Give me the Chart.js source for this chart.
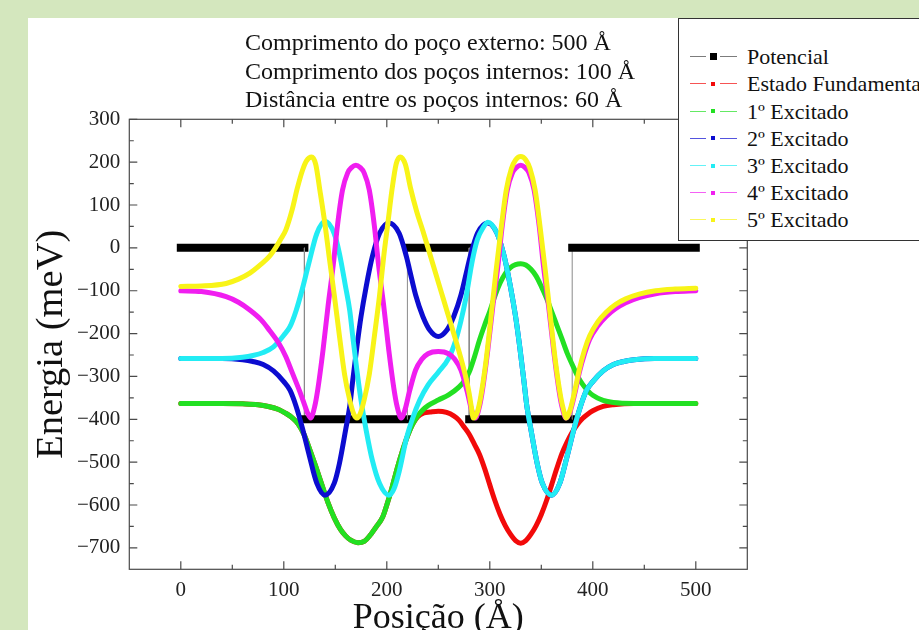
<!DOCTYPE html>
<html><head><meta charset="utf-8">
<script src="https://cdn.jsdelivr.net/npm/chart.js@4.4.1/dist/chart.umd.min.js"></script>
<style>
html,body{margin:0;padding:0;}
body{width:919px;height:630px;overflow:hidden;background:#d4e7be;position:relative;font-family:'Liberation Serif',serif;}
#panel{position:absolute;left:28px;top:18px;width:891px;height:612px;background:#fff;}
#wrap{position:absolute;left:0;top:0;width:919px;height:650px;}
#notes{position:absolute;left:245px;top:28px;font-size:24px;line-height:28.5px;color:#111;white-space:nowrap;}
#legend{position:absolute;left:678px;top:18px;width:260px;height:221px;border:1px solid #333;background:#fff;}
#legend div{position:absolute;}
.txt{font-size:22px;line-height:27px;color:#111;white-space:nowrap;}
</style></head>
<body>
<div id="panel"></div>
<div id="wrap"><canvas id="c" width="919" height="650"></canvas></div>
<div id="notes">
<div>Comprimento do poço externo: 500 Å</div>
<div>Comprimento dos poços internos: 100 Å</div>
<div>Distância entre os poços internos: 60 Å</div>
</div>
<div id="legend"></div>
<script>
// ---- tick labels ----
const xTicks = [0, 100, 200, 300, 400, 500];
const yTicks = [-700, -600, -500, -400, -300, -200, -100, 0, 100, 200, 300];

// ---- series names ----
const seriesNames = ['Potencial', 'Estado Fundamental', '1º Excitado', '2º Excitado', '3º Excitado', '4º Excitado', '5º Excitado'];

// ---- series values [posição Å, energia meV] ----
const potencial = [[0,0],[120,0],[120,-400],[220,-400],[220,0],[280,0],[280,-400],[380,-400],[380,0],[500,0]];

const fundamental = [[0,-363],[20,-363],[40,-363],[60,-364],[75,-366],[85,-370],[95,-377],[102,-386],[108,-396],[114,-411],[120,-437],[126,-476],[131,-510],[137,-553],[143,-595],[149,-630],[155,-657],[160,-672],[165,-682],[172,-688],[178,-685],[184,-670],[190,-650],[196,-628],[200,-600],[205,-560],[210,-515],[215,-475],[220,-440],[225,-412],[230,-394],[236,-385],[242,-383],[250,-381],[258,-384],[265,-392],[270,-402],[275,-418],[280,-435],[285,-458],[290,-482],[295,-515],[300,-553],[305,-590],[310,-622],[315,-648],[320,-668],[325,-683],[330,-689],[335,-683],[340,-668],[345,-648],[350,-622],[355,-590],[360,-553],[365,-515],[370,-480],[375,-453],[380,-430],[385,-412],[390,-398],[395,-388],[400,-380],[410,-370],[420,-366],[440,-363],[470,-363],[500,-363]];

const excitado1 = [[0,-363],[20,-363],[40,-363],[60,-364],[75,-366],[85,-370],[95,-377],[102,-386],[108,-396],[114,-411],[120,-437],[126,-476],[131,-510],[137,-553],[143,-595],[149,-630],[155,-657],[160,-672],[165,-682],[172,-688],[178,-685],[184,-670],[190,-650],[196,-628],[200,-600],[205,-560],[210,-515],[215,-475],[220,-440],[225,-412],[230,-392],[235,-378],[240,-368],[250,-355],[260,-343],[270,-325],[276,-308],[280,-290],[285,-255],[290,-215],[295,-180],[300,-148],[305,-112],[310,-82],[315,-60],[320,-46],[325,-39],[330,-37],[335,-40],[340,-50],[345,-66],[350,-90],[355,-117],[360,-148],[365,-180],[370,-212],[375,-245],[380,-272],[385,-298],[390,-318],[395,-333],[400,-344],[410,-356],[420,-361],[440,-363],[470,-363],[500,-363]];

const excitado2 = [[0,-258],[40,-258],[60,-261],[70,-265],[80,-272],[90,-287],[100,-312],[106,-332],[112,-370],[118,-420],[125,-487],[132,-549],[140,-577],[149,-549],[154,-503],[160,-425],[164,-370],[167,-308],[171,-230],[175,-160],[180,-90],[186,-20],[193,34],[202,58],[212,34],[219,-20],[222,-50],[228,-110],[235,-160],[242,-193],[250,-207],[258,-193],[265,-160],[272,-110],[278,-50],[281,-20],[288,34],[298,58],[307,34],[314,-20],[320,-90],[325,-160],[329,-230],[333,-308],[336,-370],[340,-425],[346,-503],[351,-549],[360,-577],[368,-549],[375,-487],[382,-420],[388,-370],[394,-332],[400,-312],[410,-287],[420,-272],[430,-265],[440,-261],[460,-258],[500,-258]];

const excitado3 = [[0,-258],[40,-258],[60,-255],[70,-251],[80,-244],[90,-231],[100,-204],[106,-184],[112,-146],[118,-96],[125,-29],[132,33],[140,62],[149,33],[154,-13],[160,-91],[164,-146],[167,-208],[171,-286],[175,-356],[180,-426],[186,-496],[193,-550],[202,-577],[207,-562],[212,-522],[219,-445],[225,-398],[232,-355],[240,-320],[250,-290],[260,-258],[267,-215],[272,-170],[277,-114],[283,-30],[288,20],[293,45],[298,60],[307,34],[314,-20],[320,-90],[325,-160],[329,-230],[333,-308],[336,-370],[340,-425],[346,-503],[351,-549],[360,-577],[368,-549],[375,-487],[382,-420],[388,-370],[394,-332],[400,-312],[410,-287],[420,-272],[430,-265],[440,-261],[460,-258],[500,-258]];

const excitado4 = [[0,-100],[20,-102],[44,-114],[56,-127],[67,-145],[78,-168],[86,-192],[95,-222],[102,-254],[108,-290],[115,-332],[120,-365],[123,-385],[126,-397],[130,-370],[133,-330],[138,-240],[143,-135],[148,-40],[152,50],[157,135],[162,175],[166,188],[170,193],[174,188],[178,175],[183,135],[188,50],[192,-40],[197,-135],[202,-240],[207,-330],[210,-370],[214,-397],[218,-375],[222,-335],[228,-285],[234,-260],[240,-247],[250,-242],[260,-247],[266,-260],[272,-285],[278,-335],[282,-375],[286,-397],[290,-370],[293,-330],[298,-240],[303,-135],[308,-40],[312,50],[317,135],[322,175],[326,188],[330,193],[334,188],[338,175],[343,135],[348,50],[352,-40],[357,-135],[362,-240],[367,-330],[370,-370],[374,-397],[378,-382],[383,-335],[387,-290],[392,-247],[397,-213],[405,-182],[413,-160],[422,-142],[432,-128],[445,-116],[461,-107],[480,-102],[500,-100]];

const excitado5 = [[0,-90],[20,-89],[44,-83],[56,-73],[67,-59],[78,-38],[86,-20],[92,0],[97,20],[102,42],[108,88],[113,138],[118,180],[122,203],[127,212],[131,195],[135,135],[140,55],[144,-20],[149,-110],[154,-205],[159,-295],[164,-355],[168,-388],[171,-397],[174,-388],[178,-355],[183,-295],[188,-205],[193,-110],[197,-20],[201,57],[205,135],[209,195],[213,212],[218,195],[223,140],[229,85],[235,40],[245,-40],[255,-120],[265,-200],[272,-258],[277,-305],[280,-340],[282,-370],[284,-397],[288,-382],[291,-350],[296,-270],[301,-165],[306,-55],[311,45],[316,135],[321,185],[325,205],[330,213],[335,205],[339,185],[344,135],[349,45],[354,-55],[359,-165],[364,-270],[369,-350],[372,-382],[374,-397],[378,-378],[383,-328],[387,-283],[392,-238],[397,-205],[405,-172],[413,-150],[422,-132],[432,-119],[445,-108],[461,-100],[480,-96],[500,-94]];

const seriesData = [potencial, fundamental, excitado1, excitado2, excitado3, excitado4, excitado5];
const seriesColors = ['#000000', '#f20a0a', '#22e022', '#0c0cd0', '#22ecf4', '#f01ef0', '#f8f418'];

Chart.defaults.font.family = "'Liberation Serif', 'Times New Roman', serif";

const toPts = arr => arr.map(p => ({x: p[0], y: p[1]}));
const isVert = c => c.p0.parsed.x === c.p1.parsed.x;

const datasets = seriesData.map((arr, i) => {
  if (i === 0) {
    return {
      label: seriesNames[0], data: toPts(arr), order: 10,
      borderColor: '#000', borderWidth: 8, borderCapStyle: 'square', tension: 0, pointRadius: 0,
      segment: {
        borderColor: c => isVert(c) ? '#8a8a8a' : '#000',
        borderWidth: c => isVert(c) ? 1 : 8
      }
    };
  }
  return {
    label: seriesNames[i], data: toPts(arr), order: 7 - i,
    borderColor: seriesColors[i], backgroundColor: seriesColors[i],
    borderWidth: 5, borderCapStyle: 'round', borderJoinStyle: 'round',
    cubicInterpolationMode: 'monotone', pointRadius: 0
  };
});

const frameTicks = {
  id: 'frameTicks',
  afterDraw(chart) {
    const {ctx, chartArea: a, scales: {x, y}} = chart;
    const xMinor = xTicks.slice(1).map((v, i) => (v + xTicks[i]) / 2);
    const yMinor = yTicks.slice(1).map((v, i) => (v + yTicks[i]) / 2);
    ctx.save();
    ctx.strokeStyle = '#4a4a4a';
    ctx.lineWidth = 1.2;
    ctx.strokeRect(a.left, a.top, a.right - a.left, a.bottom - a.top);
    ctx.beginPath();
    const xt = (v, len) => { const p = x.getPixelForValue(v); ctx.moveTo(p, a.bottom); ctx.lineTo(p, a.bottom - len); ctx.moveTo(p, a.top); ctx.lineTo(p, a.top + len); };
    const yt = (v, len) => { const p = y.getPixelForValue(v); ctx.moveTo(a.left, p); ctx.lineTo(a.left + len, p); ctx.moveTo(a.right, p); ctx.lineTo(a.right - len, p); };
    xTicks.forEach(v => xt(v, 8)); xMinor.forEach(v => xt(v, 4.5));
    yTicks.forEach(v => yt(v, 8)); yMinor.forEach(v => yt(v, 4.5));
    ctx.stroke();
    ctx.restore();
  }
};

const chart = new Chart(document.getElementById('c'), {
  type: 'line',
  data: {datasets},
  plugins: [frameTicks],
  options: {
    responsive: false, animation: false, devicePixelRatio: 1,
    layout: {padding: {top: 119.3, right: 171.7, left: 0, bottom: 0}},
    plugins: {legend: {display: false}, tooltip: {enabled: false}},
    scales: {
      x: {
        type: 'linear', min: -50, max: 550,
        afterBuildTicks: s => { s.ticks = xTicks.map(v => ({value: v})); },
        afterFit: s => { s.height = 80.7; },
        grid: {display: false, drawTicks: false}, border: {display: false},
        ticks: {padding: 9, font: {size: 21}, color: '#222', maxRotation: 0, autoSkip: false},
        title: {display: true, text: 'Posição (Å)', color: '#111', font: {size: 36}, padding: {top: 0, bottom: 9.4}}
      },
      y: {
        type: 'linear', min: -750, max: 300,
        afterBuildTicks: s => { s.ticks = yTicks.map(v => ({value: v})); },
        afterFit: s => { s.width = 129.3; },
        grid: {display: false, drawTicks: false}, border: {display: false},
        ticks: {padding: 9, font: {size: 21}, color: '#222', autoSkip: false, callback: v => String(v).replace('-', '\u2212')},
        title: {display: true, text: 'Energia (meV)', color: '#111', font: {size: 38.5}, padding: {top: 29, bottom: 0}}
      }
    }
  }
});

// ---- legend (HTML, built from the chart's datasets) ----
const leg = document.getElementById('legend');
chart.data.datasets.forEach((ds, i) => {
  const cy = 56.7 + i * 27.2 - 19;
  const col = seriesColors[i];
  const lineCol = i === 0 ? '#444' : col;
  const seg = (l, w) => {
    const d = document.createElement('div');
    d.style.cssText = `left:${l}px;top:${cy - 0.5}px;width:${w}px;height:1px;background:${lineCol};opacity:0.7;`;
    leg.appendChild(d);
  };
  seg(11, 16); seg(41, 17);
  const m = document.createElement('div');
  const s = i === 0 ? 7 : 4;
  m.style.cssText = `left:${34 - s / 2}px;top:${cy - s / 2}px;width:${s}px;height:${s}px;background:${col};`;
  leg.appendChild(m);
  const t = document.createElement('div');
  t.className = 'txt';
  t.style.left = '68px';
  t.style.top = (cy - 13.5) + 'px';
  t.textContent = ds.label;
  leg.appendChild(t);
});
</script>
</body></html>
